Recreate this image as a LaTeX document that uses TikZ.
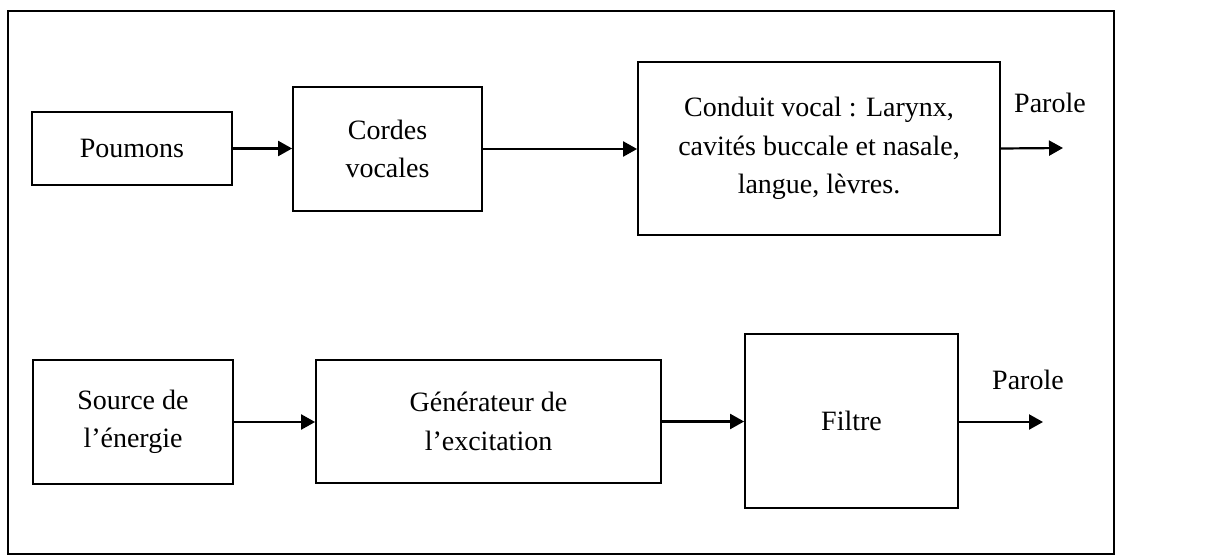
\documentclass[tikz,border=0pt]{standalone}
\usepackage{fontspec}
\setmainfont{Liberation Serif}
\usetikzlibrary{arrows.meta}
\begin{document}
\begin{tikzpicture}[x=1pt,y=-1pt,
  blockbox/.style={draw=black,line width=1.8pt,inner sep=0pt,align=center,
    font=\fontsize{28}{38.5}\selectfont},
  conn/.style={line width=2.2pt,-{Triangle[length=14pt,width=15pt]}},
  lbl/.style={inner sep=0pt,font=\fontsize{28}{34}\selectfont}]
\useasboundingbox (0,0) rectangle (1209,556);
\draw[line width=1.6pt] (8,11) rectangle (1114,554);
% top row
\node[blockbox,minimum width=200pt,minimum height=73pt] (poumons) at (132,148.5) {Poumons};
\node[blockbox,minimum width=189pt,minimum height=124pt] (cordes) at (387.5,149) {Cordes\\vocales};
\node[blockbox,minimum width=362pt,minimum height=173pt] (conduit) at (819,148.5) {Conduit vocal : Larynx,\\cavités buccale et nasale,\\langue, lèvres.};
\coordinate (out1) at (1063,148);
\node[lbl] (parole1) at (1050,103) {Parole};
\draw[conn] (poumons.east) -- (cordes.west |- poumons.east);
\draw[conn] (cordes.east) -- (conduit.west |- cordes.east);
\draw[conn] (conduit.east) -- (out1);
% bottom row
\node[blockbox,minimum width=200pt,minimum height=124pt] (source) at (133,422) {Source de\\l’énergie};
\node[blockbox,minimum width=345pt,minimum height=123pt] (gen) at (488.5,421.5) {Générateur de\\l’excitation};
\node[blockbox,minimum width=213pt,minimum height=174pt] (filtre) at (851.5,421) {Filtre};
\coordinate (out2) at (1043,422);
\node[lbl] (parole2) at (1028,380) {Parole};
\draw[conn] (source.east) -- (gen.west |- source.east);
\draw[conn] (gen.east) -- (filtre.west |- gen.east);
\draw[conn] (filtre.east |- out2) -- (out2);
\end{tikzpicture}
\end{document}
